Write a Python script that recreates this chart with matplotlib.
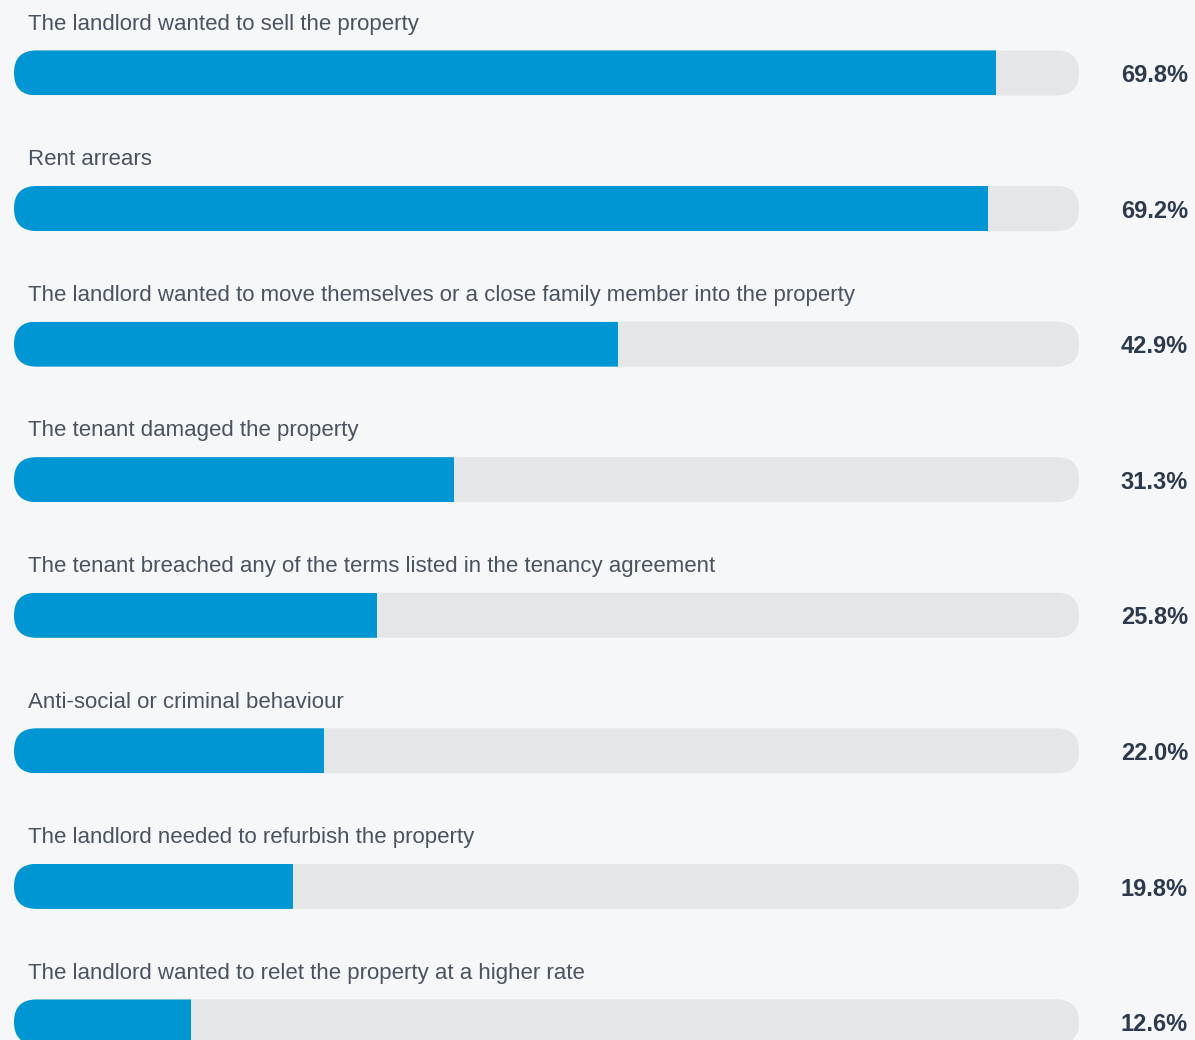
import matplotlib.pyplot as plt
from matplotlib.patches import FancyBboxPatch

reasons = [
    "The landlord wanted to sell the property",
    "Rent arrears",
    "The landlord wanted to move themselves or a close family member into the property",
    "The tenant damaged the property",
    "The tenant breached any of the terms listed in the tenancy agreement",
    "Anti-social or criminal behaviour",
    "The landlord needed to refurbish the property",
    "The landlord wanted to relet the property at a higher rate",
]
shares = [69.8, 69.2, 42.9, 31.3, 25.8, 22.0, 19.8, 12.6]

bg = "#f6f7f9"
blue = "#0095d3"
track = "#e5e6e8"
label_color = "#4a5361"
value_color = "#2b3a4c"

fig = plt.figure(figsize=(11.95, 10.40), dpi=100, facecolor=bg)
ax = fig.add_axes([0, 0, 1, 1])
ax.set_facecolor(bg)
ax.set_xlim(-0.995, 83.94)
ax.set_ylim(7.133, -0.538)
ax.axis("off")

track_max = 75.7
bar_h = 0.332

# pixel size of one data unit in each direction, used to keep the ends round
px_x = fig.bbox.width / (ax.get_xlim()[1] - ax.get_xlim()[0])
px_y = fig.bbox.height / (ax.get_ylim()[0] - ax.get_ylim()[1])
aspect = px_x / px_y
radius = bar_h / aspect / 2

for i, (name, val) in enumerate(zip(reasons, shares)):
    bg_bar = FancyBboxPatch((0, i - bar_h / 2), track_max, bar_h,
                            boxstyle=f"round,pad=0,rounding_size={radius}",
                            mutation_aspect=aspect,
                            facecolor=track, edgecolor="none", zorder=1)
    ax.add_patch(bg_bar)
    bars = ax.barh(i, val, height=bar_h, left=0, color=blue, zorder=2)
    for b in bars:
        b.set_clip_path(bg_bar)
    ax.text(0.99, i - 0.36, name, fontsize=16, color=label_color,
            family="Liberation Sans", va="center", ha="left")
    ax.text(83.44, i + 0.02, f"{val:.1f}%", fontsize=17, color=value_color,
            family="Liberation Sans", fontweight="bold", va="center", ha="right")

fig.savefig("out.png", dpi=100, facecolor=bg)
